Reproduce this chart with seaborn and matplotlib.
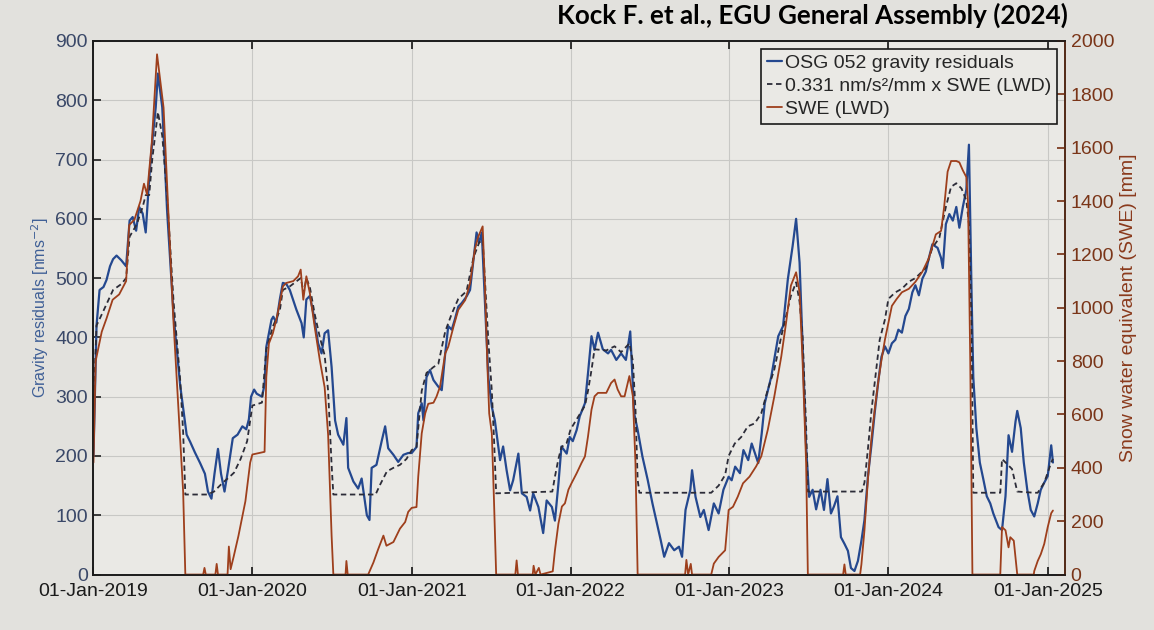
import matplotlib
matplotlib.use('Agg')
import matplotlib.pyplot as plt
import matplotlib.dates as mdates
import seaborn as sns
import pandas as pd

# OSG 052 gravity residuals [nm/s^2]
grav_dates = [
    '2019-01-01', '2019-01-08', '2019-01-15', '2019-01-24', '2019-01-31', '2019-02-08', '2019-02-15',
    '2019-02-23', '2019-03-06', '2019-03-17', '2019-03-25', '2019-04-01', '2019-04-09', '2019-04-16',
    '2019-04-24', '2019-05-01', '2019-05-09', '2019-05-16', '2019-05-24', '2019-05-29', '2019-06-08',
    '2019-06-19', '2019-07-04', '2019-07-19', '2019-08-03', '2019-08-11', '2019-08-22', '2019-09-03',
    '2019-09-14', '2019-09-21', '2019-09-29', '2019-10-06', '2019-10-14', '2019-10-21', '2019-10-29',
    '2019-11-06', '2019-11-17', '2019-11-28', '2019-12-09', '2019-12-18', '2019-12-24', '2019-12-29',
    '2020-01-05', '2020-01-11', '2020-01-23', '2020-01-29', '2020-02-02', '2020-02-14', '2020-02-18',
    '2020-02-25', '2020-03-04', '2020-03-11', '2020-03-19', '2020-03-27', '2020-04-11', '2020-04-23',
    '2020-04-28', '2020-05-04', '2020-05-12', '2020-05-20', '2020-05-31', '2020-06-08', '2020-06-15',
    '2020-06-23', '2020-07-01', '2020-07-09', '2020-07-16', '2020-07-28', '2020-08-04', '2020-08-08',
    '2020-08-20', '2020-08-31', '2020-09-08', '2020-09-20', '2020-09-26', '2020-10-01', '2020-10-12',
    '2020-10-24', '2020-11-01', '2020-11-08', '2020-11-20', '2020-12-01', '2020-12-13', '2020-12-24',
    '2021-01-01', '2021-01-12', '2021-01-16', '2021-01-24', '2021-01-28', '2021-02-04', '2021-02-12',
    '2021-02-20', '2021-03-03', '2021-03-11', '2021-03-19', '2021-03-26', '2021-04-03', '2021-04-10',
    '2021-04-18', '2021-04-26', '2021-05-07', '2021-05-15', '2021-05-23', '2021-05-30', '2021-06-05',
    '2021-06-11', '2021-06-18', '2021-06-26', '2021-07-04', '2021-07-11', '2021-07-15', '2021-07-23',
    '2021-07-30', '2021-08-07', '2021-08-15', '2021-08-22', '2021-09-03', '2021-09-11', '2021-09-22',
    '2021-09-30', '2021-10-07', '2021-10-19', '2021-10-30', '2021-11-07', '2021-11-19', '2021-11-26',
    '2021-12-04', '2021-12-11', '2021-12-23', '2021-12-30', '2022-01-06', '2022-01-15', '2022-01-22',
    '2022-02-03', '2022-02-10', '2022-02-18', '2022-02-25', '2022-03-05', '2022-03-16', '2022-03-28',
    '2022-04-04', '2022-04-16', '2022-04-27', '2022-05-08', '2022-05-18', '2022-05-27', '2022-06-04',
    '2022-06-15', '2022-06-27', '2022-07-08', '2022-07-20', '2022-07-27', '2022-08-04', '2022-08-15',
    '2022-08-27', '2022-09-07', '2022-09-14', '2022-09-22', '2022-10-03', '2022-10-07', '2022-10-15',
    '2022-10-26', '2022-11-03', '2022-11-14', '2022-11-26', '2022-12-07', '2022-12-18', '2022-12-30',
    '2023-01-06', '2023-01-14', '2023-01-25', '2023-02-02', '2023-02-13', '2023-02-21', '2023-03-08',
    '2023-03-16', '2023-03-23', '2023-04-07', '2023-04-23', '2023-05-04', '2023-05-15', '2023-05-26',
    '2023-06-03', '2023-06-11', '2023-06-18', '2023-06-26', '2023-07-03', '2023-07-11', '2023-07-19',
    '2023-07-29', '2023-08-06', '2023-08-14', '2023-08-22', '2023-08-29', '2023-09-06', '2023-09-14',
    '2023-09-22', '2023-09-30', '2023-10-07', '2023-10-15', '2023-10-23', '2023-10-31', '2023-11-07',
    '2023-11-15', '2023-11-23', '2023-12-01', '2023-12-09', '2023-12-16', '2023-12-24', '2024-01-01',
    '2024-01-09', '2024-01-17', '2024-01-24', '2024-02-01', '2024-02-09', '2024-02-17', '2024-02-25',
    '2024-03-03', '2024-03-11', '2024-03-19', '2024-03-27', '2024-04-03', '2024-04-11', '2024-04-23',
    '2024-05-01', '2024-05-05', '2024-05-12', '2024-05-20', '2024-05-28', '2024-06-05', '2024-06-12',
    '2024-06-20', '2024-06-28', '2024-07-04', '2024-07-10', '2024-07-14', '2024-07-21', '2024-07-29',
    '2024-08-06', '2024-08-14', '2024-08-22', '2024-08-29', '2024-09-10', '2024-09-18', '2024-09-26',
    '2024-10-03', '2024-10-11', '2024-10-19', '2024-10-23', '2024-10-31', '2024-11-07', '2024-11-15',
    '2024-11-23', '2024-12-01', '2024-12-09', '2024-12-16', '2024-12-24', '2025-01-01', '2025-01-09',
    '2025-01-13']
grav_vals = [
    200, 420, 480, 485, 497, 520, 532,
    538, 530, 520, 597, 603, 580, 620,
    609, 577, 668, 730, 788, 845, 788,
    615, 438, 320, 236, 224, 206, 188,
    170, 140, 128, 170, 212, 170, 140,
    176, 230, 236, 250, 245, 262, 300,
    312, 305, 300, 320, 384, 430, 435,
    425, 464, 492, 490, 480, 447, 424,
    400, 464, 470, 441, 390, 373, 407,
    412, 350, 260, 236, 219, 264, 180,
    157, 145, 162, 100, 92, 180, 185,
    225, 250, 213, 202, 190, 202, 205,
    205, 215, 272, 289, 260, 333, 345,
    328, 317, 311, 373, 419, 413, 430,
    452, 458, 469, 480, 531, 577, 560,
    577, 464, 333, 283, 260, 238, 193,
    216, 176, 142, 159, 204, 137, 131,
    108, 137, 114, 70, 125, 114, 91,
    153, 216, 204, 232, 225, 244, 267,
    289, 340, 402, 379, 408, 380, 373,
    379, 362, 373, 362, 410, 272, 244,
    199, 160, 120, 81, 58, 30, 53,
    41, 47, 30, 109, 143, 176, 131,
    97, 109, 75, 120, 103, 143, 165,
    159, 182, 171, 210, 193, 221, 188,
    238, 289, 334, 402, 419, 498, 554,
    600, 526, 385, 216, 131, 143, 110,
    143, 109, 161, 103, 115, 132, 63,
    52, 40, 11, 6, 23, 57, 92,
    166, 218, 276, 327, 367, 385, 373,
    390, 396, 413, 408, 436, 448, 476,
    488, 471, 499, 511, 534, 557, 551,
    534, 517, 591, 608, 597, 620, 585,
    620, 649, 725, 476, 333, 247, 189,
    161, 132, 120, 103, 80, 75, 132,
    235, 207, 258, 276, 247, 189, 143,
    109, 98, 120, 143, 155, 166, 218,
    189]

# snow water equivalent at LWD [mm]
swe_dates = [
    '2019-01-01', '2019-01-06', '2019-01-20', '2019-01-31', '2019-02-14', '2019-03-01', '2019-03-17',
    '2019-03-24', '2019-04-05', '2019-04-19', '2019-04-27', '2019-05-04', '2019-05-15', '2019-05-27',
    '2019-06-11', '2019-07-03', '2019-07-26', '2019-07-31', '2019-09-10', '2019-09-13', '2019-09-16',
    '2019-10-08', '2019-10-11', '2019-10-14', '2019-11-05', '2019-11-08', '2019-11-12', '2019-11-19',
    '2019-11-30', '2019-12-16', '2019-12-27', '2020-01-01', '2020-01-29', '2020-02-02', '2020-02-08',
    '2020-02-17', '2020-02-25', '2020-03-04', '2020-03-11', '2020-03-19', '2020-04-04', '2020-04-15',
    '2020-04-21', '2020-04-27', '2020-05-04', '2020-05-12', '2020-05-23', '2020-06-04', '2020-06-15',
    '2020-06-23', '2020-07-01', '2020-07-05', '2020-08-02', '2020-08-04', '2020-08-07', '2020-09-23',
    '2020-10-05', '2020-10-16', '2020-10-28', '2020-11-04', '2020-11-20', '2020-12-05', '2020-12-17',
    '2020-12-24', '2021-01-01', '2021-01-12', '2021-01-16', '2021-01-24', '2021-02-01', '2021-02-08',
    '2021-02-20', '2021-02-27', '2021-03-07', '2021-03-19', '2021-03-26', '2021-04-07', '2021-04-18',
    '2021-05-04', '2021-05-15', '2021-05-26', '2021-06-03', '2021-06-13', '2021-06-18', '2021-06-24',
    '2021-06-28', '2021-07-04', '2021-07-09', '2021-07-14', '2021-08-27', '2021-08-30', '2021-09-02',
    '2021-10-06', '2021-10-08', '2021-10-12', '2021-10-20', '2021-10-24', '2021-11-21', '2021-11-26',
    '2021-12-04', '2021-12-12', '2021-12-19', '2021-12-27', '2022-01-03', '2022-01-15', '2022-01-26',
    '2022-02-03', '2022-02-10', '2022-02-18', '2022-02-25', '2022-03-05', '2022-03-24', '2022-04-04',
    '2022-04-12', '2022-04-19', '2022-04-27', '2022-05-05', '2022-05-16', '2022-05-24', '2022-05-30',
    '2022-06-04', '2022-09-21', '2022-09-24', '2022-09-28', '2022-10-04', '2022-10-07', '2022-11-20',
    '2022-11-26', '2022-12-07', '2022-12-22', '2022-12-30', '2023-01-09', '2023-01-20', '2023-02-01',
    '2023-02-16', '2023-03-03', '2023-03-15', '2023-03-30', '2023-04-14', '2023-04-30', '2023-05-11',
    '2023-05-22', '2023-06-03', '2023-06-11', '2023-06-18', '2023-06-26', '2023-06-30', '2023-09-19',
    '2023-09-22', '2023-09-25', '2023-10-28', '2023-10-31', '2023-11-07', '2023-11-15', '2023-11-23',
    '2023-12-01', '2023-12-09', '2023-12-16', '2023-12-24', '2024-01-01', '2024-01-09', '2024-01-20',
    '2024-02-01', '2024-02-17', '2024-03-03', '2024-03-19', '2024-04-03', '2024-04-19', '2024-05-01',
    '2024-05-08', '2024-05-16', '2024-05-24', '2024-06-05', '2024-06-12', '2024-06-20', '2024-06-28',
    '2024-07-02', '2024-07-07', '2024-07-12', '2024-09-14', '2024-09-18', '2024-09-26', '2024-10-03',
    '2024-10-07', '2024-10-15', '2024-10-23', '2024-11-30', '2024-12-01', '2024-12-09', '2024-12-16',
    '2024-12-24', '2025-01-01', '2025-01-09', '2025-01-13']
swe_vals = [
    420, 800, 910, 960, 1030, 1050, 1100,
    1310, 1330, 1400, 1465, 1425, 1620, 1950,
    1750, 970, 310, 0, 0, 25, 0,
    0, 40, 0, 0, 105, 20, 67,
    145, 275, 420, 450, 460, 740, 866,
    904, 955, 1018, 1080, 1093, 1100, 1118,
    1143, 1030, 1118, 1055, 930, 803, 702,
    524, 146, 0, 0, 51, 0, 0,
    45, 95, 146, 108, 122, 172, 197,
    235, 250, 253, 367, 529, 604, 640,
    644, 667, 704, 829, 854, 929, 992,
    1029, 1092, 1218, 1267, 1305, 1092, 778,
    604, 529, 278, 0, 0, 53, 0,
    0, 33, 0, 25, 0, 12, 90,
    191, 255, 267, 318, 342, 380, 418,
    443, 518, 618, 668, 681, 681, 718,
    731, 694, 668, 668, 744, 668, 418,
    0, 0, 55, 0, 40, 0, 0,
    41, 66, 91, 242, 254, 292, 342,
    367, 405, 443, 543, 668, 818, 944,
    1083, 1133, 1058, 793, 418, 0, 0,
    38, 0, 0, 38, 166, 357, 510,
    625, 727, 803, 880, 944, 1007, 1033,
    1058, 1071, 1097, 1135, 1186, 1275, 1288,
    1377, 1510, 1550, 1550, 1545, 1515, 1490,
    1390, 803, 0, 0, 178, 166, 102,
    140, 127, 0, 0, 13, 51, 76,
    115, 178, 230, 240]

# 0.331 nm/s^2/mm x SWE model [nm/s^2]
model_dates = [
    '2019-01-01', '2019-01-08', '2019-01-24', '2019-02-15', '2019-03-06', '2019-03-17', '2019-03-25',
    '2019-04-10', '2019-04-24', '2019-05-01', '2019-05-09', '2019-05-16', '2019-05-24', '2019-05-29',
    '2019-06-08', '2019-06-19', '2019-07-04', '2019-07-19', '2019-07-26', '2019-07-31', '2019-09-20',
    '2019-10-05', '2019-10-25', '2019-11-10', '2019-11-20', '2019-12-05', '2019-12-20', '2020-01-01',
    '2020-01-23', '2020-02-02', '2020-02-18', '2020-03-04', '2020-03-11', '2020-03-27', '2020-04-21',
    '2020-04-28', '2020-05-04', '2020-05-12', '2020-05-23', '2020-06-04', '2020-06-15', '2020-06-23',
    '2020-07-01', '2020-07-05', '2020-10-10', '2020-10-20', '2020-11-05', '2020-11-20', '2020-12-05',
    '2020-12-20', '2021-01-01', '2021-01-12', '2021-01-24', '2021-02-04', '2021-02-20', '2021-03-03',
    '2021-03-19', '2021-04-03', '2021-04-18', '2021-05-07', '2021-05-23', '2021-06-05', '2021-06-13',
    '2021-06-18', '2021-06-26', '2021-07-04', '2021-07-09', '2021-07-14', '2021-11-20', '2021-11-26',
    '2021-12-04', '2021-12-11', '2021-12-23', '2022-01-01', '2022-01-15', '2022-02-03', '2022-02-10',
    '2022-02-18', '2022-02-25', '2022-03-24', '2022-04-12', '2022-04-27', '2022-05-16', '2022-05-24',
    '2022-05-30', '2022-06-04', '2022-06-08', '2022-11-20', '2022-12-07', '2022-12-22', '2022-12-30',
    '2023-01-13', '2023-01-28', '2023-02-12', '2023-02-28', '2023-03-15', '2023-03-30', '2023-04-14',
    '2023-04-30', '2023-05-22', '2023-06-03', '2023-06-11', '2023-06-18', '2023-06-26', '2023-06-30',
    '2023-11-01', '2023-11-07', '2023-11-15', '2023-11-23', '2023-12-01', '2023-12-12', '2023-12-24',
    '2024-01-01', '2024-01-17', '2024-02-01', '2024-02-17', '2024-03-03', '2024-03-27', '2024-04-11',
    '2024-04-27', '2024-05-12', '2024-05-24', '2024-06-05', '2024-06-17', '2024-06-28', '2024-07-04',
    '2024-07-10', '2024-07-14', '2024-09-14', '2024-09-18', '2024-09-26', '2024-10-11', '2024-10-23',
    '2024-11-30', '2024-12-09', '2024-12-24', '2025-01-09', '2025-01-13']
model_vals = [
    280, 420, 445, 480, 490, 500, 570,
    590, 620, 640, 640, 700, 750, 780,
    740, 640, 460, 330, 240, 135, 135,
    140, 155, 165, 172, 195, 225, 285,
    290, 380, 420, 445, 480, 486, 500,
    475, 500, 485, 440, 400, 370, 310,
    185, 135, 135, 151, 174, 180, 185,
    195, 210, 215, 310, 340, 350, 355,
    410, 440, 465, 478, 535, 560, 565,
    500, 395, 310, 230, 137, 140, 165,
    195, 215, 222, 245, 262, 285, 310,
    345, 380, 378, 385, 375, 390, 360,
    280, 160, 138, 138, 150, 168, 200,
    221, 232, 250, 255, 272, 312, 346,
    402, 470, 493, 460, 400, 250, 140,
    140, 155, 212, 276, 327, 396, 430,
    465, 476, 482, 494, 500, 517, 551,
    568, 620, 654, 660, 651, 631, 591,
    419, 138, 138, 195, 189, 178, 140,
    138, 138, 155, 189, 195]

labels = ['OSG 052 gravity residuals', '0.331 nm/s\u00b2/mm x SWE (LWD)', 'SWE (LWD)']

grav = pd.DataFrame({'date': pd.to_datetime(grav_dates), 'value': grav_vals})
model = pd.DataFrame({'date': pd.to_datetime(model_dates), 'value': model_vals})
swe = pd.DataFrame({'date': pd.to_datetime(swe_dates), 'value': swe_vals})

sns.set_theme(style='ticks')
plt.rcParams['font.family'] = ['Liberation Sans', 'DejaVu Sans']

blue = '#24488f'
brown = '#9e3f1c'
dark = '#2c2c38'

fig, ax = plt.subplots(figsize=(11.54, 6.30), dpi=100)
fig.patch.set_facecolor('#e2e1dd')
ax.set_facecolor('#eae9e5')
fig.subplots_adjust(left=0.081, right=0.923, top=0.935, bottom=0.088)

sns.lineplot(data=grav, x='date', y='value', ax=ax, color=blue, lw=1.6, label=labels[0])
sns.lineplot(data=model, x='date', y='value', ax=ax, color=dark, lw=1.3,
             linestyle=(0, (3, 2)), label=labels[1])
ax2 = ax.twinx()
sns.lineplot(data=swe, x='date', y='value', ax=ax2, color=brown, lw=1.3, label=labels[2])

ax.set_xlim(pd.Timestamp('2019-01-01'), pd.Timestamp('2025-02-10'))
ax.set_ylim(0, 900)
ax2.set_ylim(0, 2000)
ax.set_yticks(range(0, 901, 100))
ax2.set_yticks(range(0, 2001, 200))
ax.xaxis.set_major_locator(mdates.YearLocator())
ax.xaxis.set_major_formatter(mdates.DateFormatter('%d-%b-%Y'))

ax.grid(True, color='#c8c8c5', lw=0.8)
ax.set_axisbelow(True)
ax.xaxis.set_ticks_position('both')
ax.tick_params(axis='x', direction='in', length=6, labelsize=14, colors='#1a1a1a', pad=6)
ax.tick_params(axis='y', direction='in', length=6, labelsize=14, labelcolor='#3a4868', pad=4)
ax2.tick_params(axis='y', direction='in', length=6, labelsize=14, labelcolor='#7a3518', color='#7a3518', pad=4)

ax.set_xlabel('')
ax.set_ylabel('Gravity residuals [nms$^{-2}$]', fontsize=11.5, color='#3f5f96', labelpad=3)
ax2.set_ylabel('Snow water equivalent (SWE) [mm]', fontsize=14, color='#8a3a1c', labelpad=4)

for side in ['top', 'bottom', 'left']:
    ax2.spines[side].set_color('#1a1a1a')
ax2.spines['right'].set_color('#5a2a14')
for sp in ax2.spines.values():
    sp.set_linewidth(1.2)

h1, l1 = ax.get_legend_handles_labels()
h2, l2 = ax2.get_legend_handles_labels()
if ax.get_legend() is not None:
    ax.get_legend().remove()
leg = ax2.legend(h1 + h2, l1 + l2, loc='upper right', fontsize=14, frameon=True,
                 fancybox=False, edgecolor='#1a1a1a', facecolor='#eae9e5', framealpha=1,
                 handlelength=0.8, handletextpad=0.15, labelspacing=0.28,
                 borderpad=0.3, borderaxespad=0.4)
leg.get_frame().set_linewidth(1.2)

fig.text(0.925, 0.995, 'Kock F. et al., EGU General Assembly (2024)', ha='right', va='top',
         fontsize=18.7, fontweight='bold', family=['Lato', 'DejaVu Sans'], color='black')

fig.savefig('out.png', dpi=100, facecolor=fig.get_facecolor())
